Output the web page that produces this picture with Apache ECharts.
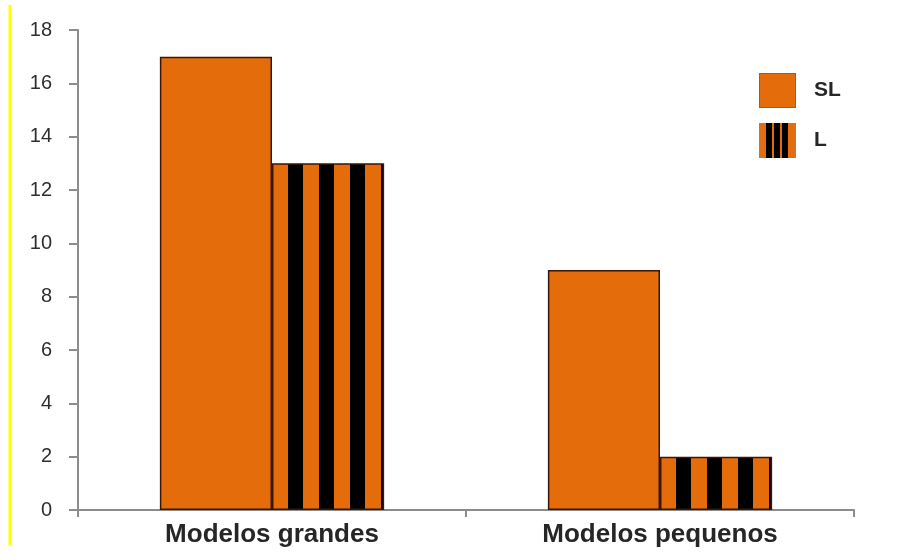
<!DOCTYPE html>
<html><head><meta charset="utf-8">
<script src="https://cdn.jsdelivr.net/npm/echarts@6/dist/echarts.min.js"></script>
<style>html,body{margin:0;padding:0;background:#fff}#c{width:922px;height:560px}</style>
</head><body><div id="c"></div>
<script>
// ---- data ----
const categories = ['Modelos grandes', 'Modelos pequenos'];
const seriesNames = ['SL', 'L'];
const slValues = [17, 9];
const lValues = [13, 2];
const yMin = 0, yMax = 18, yInterval = 2;

// ---- styles ----
const ORANGE = '#E46C0A';
const BORDER = '#3a1606';
const FONT = 'Liberation Sans, Arial, sans-serif';

function stripeTile() {
  const c = document.createElement('canvas');
  c.width = 31; c.height = 8;
  const g = c.getContext('2d');
  g.fillStyle = ORANGE; g.fillRect(0, 0, 31, 8);
  g.fillStyle = '#000'; g.fillRect(0, 0, 15, 8);
  return c;
}
function legendIcon(striped) {
  const c = document.createElement('canvas');
  c.width = 37; c.height = 35;
  const g = c.getContext('2d');
  g.fillStyle = striped ? '#D9721E' : ORANGE; g.fillRect(0, 0, 37, 35);
  if (striped) {
    g.fillStyle = '#E46C0A'; g.fillRect(2, 0, 33, 35);
    g.fillStyle = '#000';
    [7, 15, 23].forEach(x => g.fillRect(x, 0, 6, 35));
  } else {
    g.strokeStyle = 'rgba(150,70,20,0.6)'; g.lineWidth = 1; g.strokeRect(0.5, 0.5, 36, 34);
  }
  return 'image://' + c.toDataURL();
}
const tile = stripeTile();

const chart = echarts.init(document.getElementById('c'), null, { renderer: 'canvas' });
const baseOption = {
  animation: false,
  backgroundColor: '#fff',
  grid: { left: 78, right: 68, top: 30, bottom: 50, containLabel: false },
  legend: {
    orient: 'vertical', left: 754, top: 68,
    itemWidth: 37, itemHeight: 35, itemGap: 15,
    data: [
      { name: seriesNames[0], icon: legendIcon(false) },
      { name: seriesNames[1], icon: legendIcon(true) }
    ],
    textStyle: { fontFamily: FONT, fontSize: 21, fontWeight: 'bold', color: '#262626', padding: [0, 0, 0, 13] }
  },
  xAxis: {
    type: 'category', data: categories,
    axisLine: { lineStyle: { color: '#8c8c8c', width: 2 } },
    axisTick: { show: true, length: 7, alignWithLabel: false, lineStyle: { color: '#8c8c8c', width: 2 } },
    axisLabel: { fontFamily: FONT, fontSize: 26, fontWeight: 'bold', color: '#262626', margin: 12 }
  },
  yAxis: {
    type: 'value', min: yMin, max: yMax, interval: yInterval,
    splitLine: { show: false },
    axisLine: { show: true, lineStyle: { color: '#8c8c8c', width: 2 } },
    axisTick: { show: true, length: 9, lineStyle: { color: '#8c8c8c', width: 2 } },
    axisLabel: { fontFamily: FONT, fontSize: 20, color: '#2e2e2e', margin: 26 }
  },
  graphic: [{
    type: 'line', shape: { x1: 10, y1: 5, x2: 10, y2: 545 },
    style: { stroke: '#FFFF00', lineWidth: 3 }, silent: true
  }],
  series: [
    {
      name: seriesNames[0], type: 'bar', data: slValues,
      barGap: '0%', barCategoryGap: '42.2%',
      itemStyle: { color: ORANGE, borderColor: BORDER, borderWidth: 1.5 }
    },
    {
      name: seriesNames[1], type: 'bar', data: lValues,
      barGap: '0%', barCategoryGap: '42.2%',
      itemStyle: { color: ORANGE, borderColor: BORDER, borderWidth: 1.5 }
    }
  ]
};
chart.setOption(baseOption);
// striped fill anchored to each L bar's left edge (the category centre)
const lData = lValues.map((v, i) => {
  const cx = chart.convertToPixel({ xAxisIndex: 0 }, categories[i]);
  return { value: v, itemStyle: { color: { image: tile, repeat: 'repeat', x: cx + 16, y: 0 } } };
});
chart.setOption({ series: [{}, { data: lData }] });
</script></body></html>
